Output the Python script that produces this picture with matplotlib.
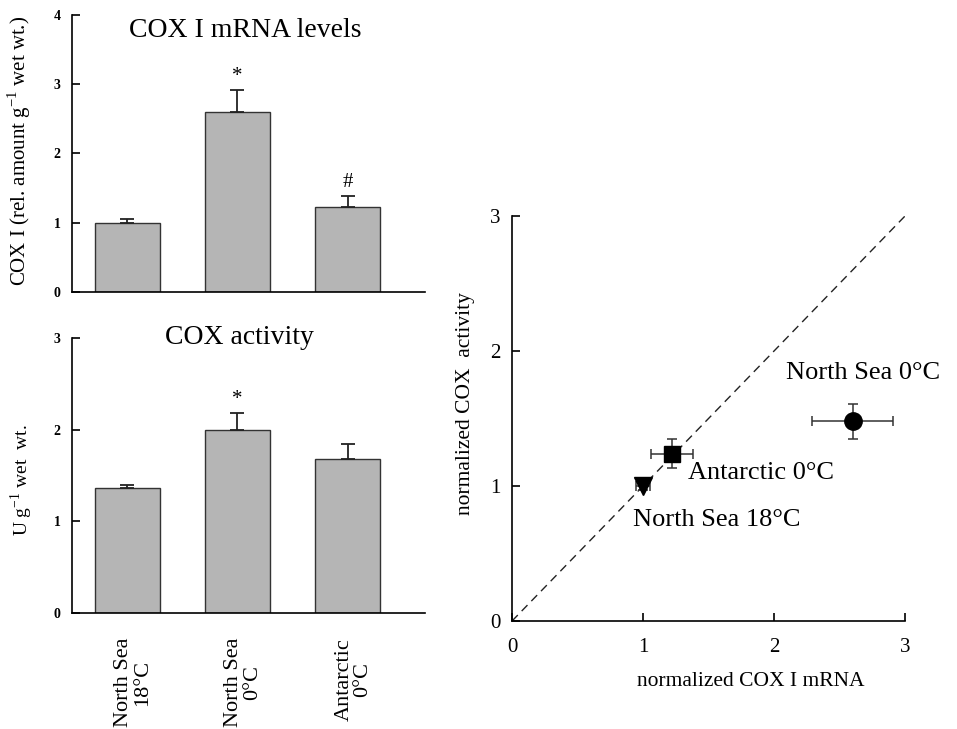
import numpy as np
import matplotlib
matplotlib.use("Agg")
from matplotlib import pyplot as plt

plt.rcParams['font.family'] = ['Liberation Serif', 'DejaVu Serif']
plt.rcParams['mathtext.fontset'] = 'custom'
plt.rcParams['mathtext.rm'] = 'Liberation Serif'

# data
groups = ['North Sea\n18°C', 'North Sea\n0°C', 'Antarctic\n0°C']
mrna = [1.00, 2.60, 1.22]
mrna_err = [0.06, 0.31, 0.16]
mrna_marks = ['', '*', '#']
cox = [1.36, 2.00, 1.68]
cox_err = [0.04, 0.18, 0.16]
cox_marks = ['', '*', '']

norm_mrna = [1.00, 2.60, 1.22]
norm_mrna_err = [0.05, 0.31, 0.16]
norm_cox = [1.00, 1.48, 1.24]
norm_cox_err = [0.03, 0.13, 0.11]
markers = ['v', 'o', 's']
point_labels = ['North Sea 18°C', 'North Sea 0°C', 'Antarctic 0°C']
label_pos = [(0.92, 0.75), (2.09, 1.84), (1.34, 1.10)]

bar_color = '#b5b5b5'

fig = plt.figure(figsize=(9.57, 7.29), dpi=100)
ax1 = fig.add_axes([0.0752, 0.5995, 0.3689, 0.3799])
ax2 = fig.add_axes([0.0752, 0.1591, 0.3689, 0.3772])
ax3 = fig.add_axes([0.535, 0.1481, 0.4107, 0.5556])


def bars(ax, vals, errs, marks, ymax, ylabel, title, tx, ty):
    x = np.arange(len(vals))
    ax.bar(x, vals, width=0.59, color=bar_color, edgecolor='#333333',
           linewidth=1.0, zorder=2)
    ax.errorbar(x, vals, yerr=[np.zeros(len(vals)), errs], fmt='none',
                ecolor='#222222', elinewidth=1.3, capsize=5, capthick=1.3,
                zorder=3)
    for xi, v, e, m in zip(x, vals, errs, marks):
        if m:
            ax.text(xi, v + e + ymax * 0.015, m, ha='center', va='bottom',
                    fontsize=15)
    ax.set_xlim(-0.5, 2.7)
    ax.set_ylim(0, ymax)
    ax.set_yticks(range(ymax + 1))
    ax.set_yticklabels([str(i) for i in range(ymax + 1)], fontweight='bold',
                       fontsize=10)
    ax.set_xticks([])
    for s in ('top', 'right'):
        ax.spines[s].set_visible(False)
    ax.spines['left'].set_linewidth(1.2)
    ax.spines['bottom'].set_linewidth(1.2)
    ax.tick_params(axis='y', direction='in', length=6, width=1.2, pad=8)
    ax.set_ylabel(ylabel, fontsize=15)
    ax.text(tx, ty, title, ha='center', va='center', fontsize=20)


bars(ax1, mrna, mrna_err, mrna_marks, 4,
     r'COX I (rel. amount g$^{\mathregular{-1}}$ wet wt.)',
     'COX I mRNA levels', 1.07, 3.78)
bars(ax2, cox, cox_err, cox_marks, 3,
     r'U g$^{\mathregular{-1}}$ wet  wt.', 'COX activity', 1.02, 3.01)
ax1.yaxis.set_label_coords(-0.11, 0.51)
ax2.yaxis.set_label_coords(-0.105, 0.484)
ax2.yaxis.label.set_fontsize(14)

for i, g in enumerate(groups):
    ax2.text(i + 0.05, -0.09, g, rotation=90, ha='center', va='top',
             fontsize=16, linespacing=1.0,
             transform=ax2.get_xaxis_transform())

# scatter panel
ax3.plot([0, 3], [0, 3], ls=(0, (6, 4)), color='#222222', lw=1.0, zorder=1)
for xv, xe, yv, ye, mk in zip(norm_mrna, norm_mrna_err, norm_cox,
                              norm_cox_err, markers):
    ax3.errorbar(xv, yv, xerr=xe, yerr=ye, fmt=mk, color='black',
                 ecolor='#333333', elinewidth=1.1, capsize=3.5, capthick=1.1,
                 markersize=12.5 if mk != 's' else 11, zorder=3)
for lab, (lx, ly) in zip(point_labels, label_pos):
    ax3.text(lx, ly, lab, ha='left', va='center', fontsize=19)

ax3.set_xlim(0, 3)
ax3.set_ylim(0, 3)
ax3.set_xticks([0, 1, 2, 3])
ax3.set_yticks([0, 1, 2, 3])
for s in ('top', 'right'):
    ax3.spines[s].set_visible(False)
ax3.spines['left'].set_linewidth(1.2)
ax3.spines['bottom'].set_linewidth(1.2)
ax3.tick_params(direction='in', length=6, width=1.2, labelsize=15)
ax3.tick_params(axis='x', pad=12)
ax3.tick_params(axis='y', pad=8)
ax3.set_xlabel('normalized COX I mRNA', fontsize=15.5)
ax3.set_ylabel('normalized COX  activity', fontsize=15.5)
ax3.xaxis.set_label_coords(0.608, -0.125)
ax3.yaxis.set_label_coords(-0.095, 0.538)

fig.savefig('out.png', dpi=100)
